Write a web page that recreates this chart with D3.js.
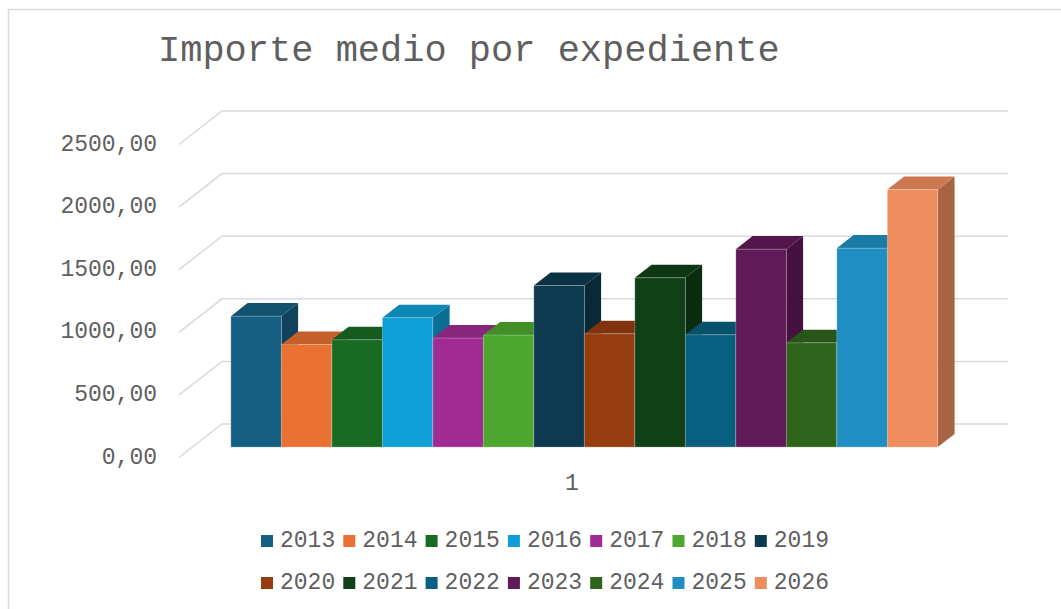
<!DOCTYPE html>
<html>
<head>
<meta charset="utf-8">
<script src="https://cdn.jsdelivr.net/npm/d3@7"></script>
<style>
  body { margin: 0; background: #fff; }
  svg { display: block; }
  text { font-family: "Liberation Mono", "DejaVu Sans Mono", monospace; fill: #5f5f5f; }
</style>
</head>
<body>
<div id="chart"></div>
<script>
var years = ['2013','2014','2015','2016','2017','2018','2019','2020','2021','2022','2023','2024','2025','2026'];
var values = [1046, 820, 857, 1033, 871, 895, 1291, 905, 1352, 897, 1581, 833, 1589, 2058];
var colors = ['#156082','#e97132','#196b24','#0f9ed5','#a02b93','#4ea72e','#0d3a4f',
              '#963d10','#0f4016','#095f80','#601a58','#2f641c','#1f8fc3','#ee8d5e'];
var yTicks = [0, 500, 1000, 1500, 2000, 2500];
var category = ['1'];

var width = 1061, height = 609;

var svg = d3.select('#chart').append('svg')
  .attr('width', width).attr('height', height);

// chart border
svg.append('rect')
  .attr('x', 8.5).attr('y', 9.5)
  .attr('width', 1100).attr('height', 700)
  .attr('fill', 'none').attr('stroke', '#d9d9d9').attr('stroke-width', 1.5);

svg.append('text')
  .attr('x', 158).attr('y', 61)
  .style('font-size', '37px')
  .text('Importe medio por expediente');

// depth of the 3d box: front plane -> back wall
var depthX = 43, depthY = 33.5;
// bars sit inside the box between these fractions of the depth
var barFront = 0.31, barBack = 0.70;

var x0 = d3.scaleBand().domain(category).range([179, 965]);
var y = d3.scaleLinear().domain([0, 2500]).range([457.5, 144.5]);

var gap = x0.bandwidth() * 0.049;
var x1 = d3.scaleBand().domain(years)
  .range([x0('1') + gap, x0('1') + x0.bandwidth() - gap - 2]);

// gridlines: back wall + left side wall
var grid = svg.append('g').attr('stroke', '#d9d9d9').attr('stroke-width', 1.5).attr('fill', 'none');
grid.selectAll('path').data(yTicks).enter().append('path')
  .attr('d', function (d) {
    var yf = y(d);
    return 'M' + x0.range()[0] + ',' + yf +
      'L' + (x0.range()[0] + depthX) + ',' + (yf - depthY) +
      'L' + (x0.range()[1] + depthX) + ',' + (yf - depthY);
  });

// y axis labels
svg.append('g').selectAll('text').data(yTicks).enter().append('text')
  .attr('x', 157).attr('y', function (d) { return y(d) + 6; })
  .attr('text-anchor', 'end')
  .style('font-size', '23px')
  .text(function (d) { return d3.format('.2f')(d).replace('.', ','); });

// 3d bars
var fx = depthX * barFront, fy = depthY * barFront;
var bx = depthX * (barBack - barFront), by = depthY * (barBack - barFront);

var bars = svg.append('g').selectAll('g').data(years).enter().append('g');

bars.each(function (d, i) {
  var g = d3.select(this);
  var c = d3.color(colors[i]);
  var l = x1(d) + fx, r = l + x1.bandwidth();
  var t = y(values[i]) - fy, b = y(0) - fy;
  // side
  g.append('path')
    .attr('d', 'M' + r + ',' + b + 'L' + (r + bx) + ',' + (b - by) +
      'L' + (r + bx) + ',' + (t - by) + 'L' + r + ',' + t + 'Z')
    .attr('fill', c.darker(1.0));
  // top
  g.append('path')
    .attr('d', 'M' + l + ',' + t + 'L' + r + ',' + t +
      'L' + (r + bx) + ',' + (t - by) + 'L' + (l + bx) + ',' + (t - by) + 'Z')
    .attr('fill', c.darker(0.45));
  // front
  g.append('rect')
    .attr('x', l).attr('y', t)
    .attr('width', x1.bandwidth()).attr('height', b - t)
    .attr('fill', c)
    .attr('stroke', 'rgba(255,255,255,0.35)').attr('stroke-width', 0.75);
});

// category label
svg.append('text')
  .attr('x', x0('1') + x0.bandwidth() / 2).attr('y', 490)
  .attr('text-anchor', 'middle')
  .style('font-size', '23px')
  .text(category[0]);

// legend, two rows of seven
var perRow = 7, legendX = 261, legendStep = 82.3;
var rowY = [541, 583];
var legend = svg.append('g').selectAll('g').data(years).enter().append('g')
  .attr('transform', function (d, i) {
    return 'translate(' + (legendX + (i % perRow) * legendStep) + ',' + rowY[Math.floor(i / perRow)] + ')';
  });
legend.append('rect')
  .attr('x', 0).attr('y', -6).attr('width', 12).attr('height', 12)
  .attr('fill', function (d, i) { return colors[i]; });
legend.append('text')
  .attr('x', 19).attr('y', 6)
  .style('font-size', '23px')
  .text(function (d) { return d; });
</script>
</body>
</html>
